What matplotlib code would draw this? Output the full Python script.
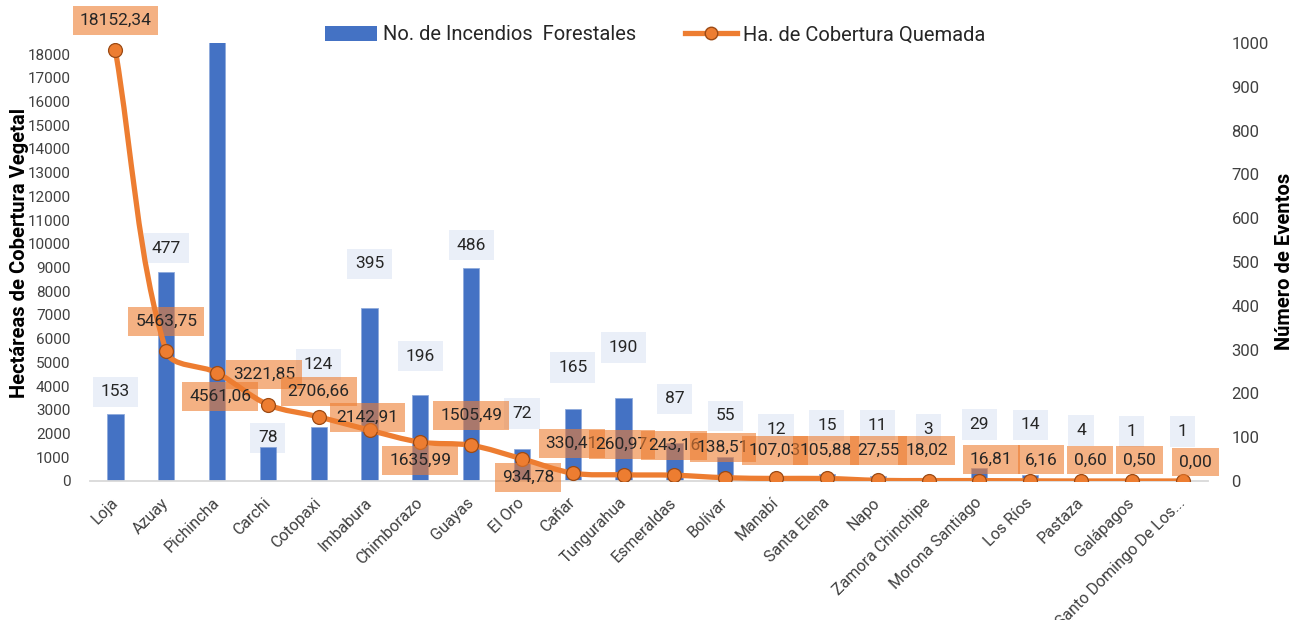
import matplotlib.pyplot as plt
import numpy as np
from matplotlib.path import Path
from matplotlib.patches import PathPatch, Patch
from matplotlib.lines import Line2D

plt.rcParams['font.family'] = ['Roboto', 'DejaVu Sans']

# Data
provincias = ["Loja", "Azuay", "Pichincha", "Carchi", "Cotopaxi", "Imbabura",
              "Chimborazo", "Guayas", "El Oro", "Cañar", "Tungurahua",
              "Esmeraldas", "Bolívar", "Manabí", "Santa Elena", "Napo",
              "Zamora Chinchipe", "Morona Santiago", "Los Ríos", "Pastaza",
              "Galápagos", "Santo Domingo De Los..."]
incendios = [153, 477, 1100, 78, 124, 395, 196, 486, 72, 165, 190, 87, 55,
             12, 15, 11, 3, 29, 14, 4, 1, 1]
hectareas = [18152.34, 5463.75, 4561.06, 3221.85, 2706.66, 2142.91, 1635.99,
             1505.49, 934.78, 330.41, 260.97, 243.16, 138.51, 107.03, 105.88,
             27.55, 18.02, 16.81, 6.16, 0.60, 0.50, 0.00]

# label offsets in pixels (dx, dy)
line_lbl_off = [(0, 30), (0, 30), (3, -24), (-4, 30), (0, 25), (-2, 13),
                (0, -18), (0, 30), (6, -19), (-1, 30), (-2, 30), (0, 30),
                (-2, 30), (-1, 28), (-1, 28), (1, 30), (-2, 30), (12, 21),
                (11, 21), (9, 21), (8, 21), (13, 19)]
bar_lbl_dy = [22, 24, 0, 9, 62, 44, 39, 23, 36, 41, 50, 44, 41, 46, 49, 51,
              50, 44, 50, 49, 49, 49]

BLUE = '#4472C4'
ORANGE = '#ED7D31'

fig = plt.figure(figsize=(13.05, 6.2), dpi=100)
ax = fig.add_axes([90/1305, 1-481/620, (1208-90)/1305, (481-43)/620])
ax2 = ax.twinx()
x = list(range(len(provincias)))

# bars (right axis, number of events)
ax.bar(x, incendios, width=0.32, color=BLUE, edgecolor='#8FAADC', linewidth=0.6, zorder=2)
ax.set_ylim(0, 1000)
ax.set_xlim(-0.5, len(provincias) - 0.5)
ax.yaxis.tick_right()
ax.set_yticks(range(0, 1001, 100))
ax.tick_params(axis='y', length=0, pad=17, labelsize=12, labelcolor='#404040')
ax.set_xticks(x)
ax.set_xticklabels(provincias, rotation=45, ha='right', va='center',
                   rotation_mode='anchor', fontsize=11.5, color='#404040')
ax.tick_params(axis='x', length=0, pad=14)
for s in ['top', 'left', 'right']:
    ax.spines[s].set_visible(False)
ax.spines['bottom'].set_color('#D9D9D9')
ax.spines['bottom'].set_linewidth(1.3)

for i, v in enumerate(incendios):
    ax.annotate(str(v), xy=(i, v), xytext=(0, bar_lbl_dy[i]), textcoords='offset pixels',
                ha='center', va='center', fontsize=12.5, color='#262626',
                bbox=dict(boxstyle='square,pad=0.45', fc=(68/255, 114/255, 196/255, 0.11), ec='none'))

# smoothed line (left axis, hectares)
ax2.set_ylim(0, 18000 * 438 / 427)
ax2.yaxis.tick_left()
ax2.set_yticks(range(0, 18001, 1000))
ax2.tick_params(axis='y', length=0, pad=14, labelsize=11, labelcolor='#404040')
for s in ax2.spines.values():
    s.set_visible(False)

fig.text(20/1305, 1-253/620, "Hectáreas de Cobertura Vegetal", rotation=90,
         ha='center', va='center', fontsize=14.5, fontweight='bold')
fig.text(1285/1305, 1-261/620, "Número de Eventos", rotation=90,
         ha='center', va='center', fontsize=14.5, fontweight='bold')

# Excel-like smoothing, control points computed in screen space
P = ax2.transData.transform(np.column_stack([x, hectareas]))
n = len(P)
verts = [P[0]]
codes = [Path.MOVETO]
for i in range(n - 1):
    p0, p1, p2 = P[max(i - 1, 0)], P[i], P[i + 1]
    p3 = P[min(i + 2, n - 1)]
    d01 = np.hypot(*(p1 - p0))
    d12 = np.hypot(*(p2 - p1))
    d23 = np.hypot(*(p3 - p2))
    f1 = d12 / (d01 + d12) / 3 if d01 + d12 > 0 else 0
    f2 = d12 / (d12 + d23) / 3 if d12 + d23 > 0 else 0
    if i == 0:
        c1 = p1 + (p2 - p1) / 3
    else:
        c1 = p1 + (p2 - p0) * f1
    if i == n - 2:
        c2 = p2 - (p2 - p1) / 3
    else:
        c2 = p2 - (p3 - p1) * f2
    verts += [c1, c2, p2]
    codes += [Path.CURVE4] * 3
verts = ax2.transData.inverted().transform(np.array(verts))
ax2.add_patch(PathPatch(Path(verts, codes), fill=False, edgecolor=ORANGE,
                        lw=3.8, capstyle='round', joinstyle='round', zorder=3))
ax2.plot(x, hectareas, linestyle='none', marker='o', markersize=10,
         markerfacecolor=ORANGE, markeredgecolor='#9C4A14', markeredgewidth=0.9, zorder=4)

for i, v in enumerate(hectareas):
    txt = f"{v:.2f}".replace('.', ',')
    dx, dy = line_lbl_off[i]
    ax2.annotate(txt, xy=(i, v), xytext=(dx, dy), textcoords='offset pixels',
                 ha='center', va='center', fontsize=12.5, color='#262626', zorder=5,
                 bbox=dict(boxstyle='square,pad=0.4', fc=(237/255, 125/255, 49/255, 0.6), ec='none'))

handles = [Patch(facecolor=BLUE, edgecolor='none'),
           Line2D([0], [0], color=ORANGE, lw=3.8, marker='o', markersize=9,
                  markerfacecolor=ORANGE, markeredgecolor='#9C4A14')]
fig.legend(handles, ["No. de Incendios  Forestales", "Ha. de Cobertura Quemada"],
           loc='center', bbox_to_anchor=(655/1305, 1-35/620), ncol=2, frameon=False,
           fontsize=14.5, handlelength=2.6, handletextpad=0.3, columnspacing=2.4,
           labelcolor='#262626')

plt.savefig('out.png', dpi=100)
plt.close(fig)
